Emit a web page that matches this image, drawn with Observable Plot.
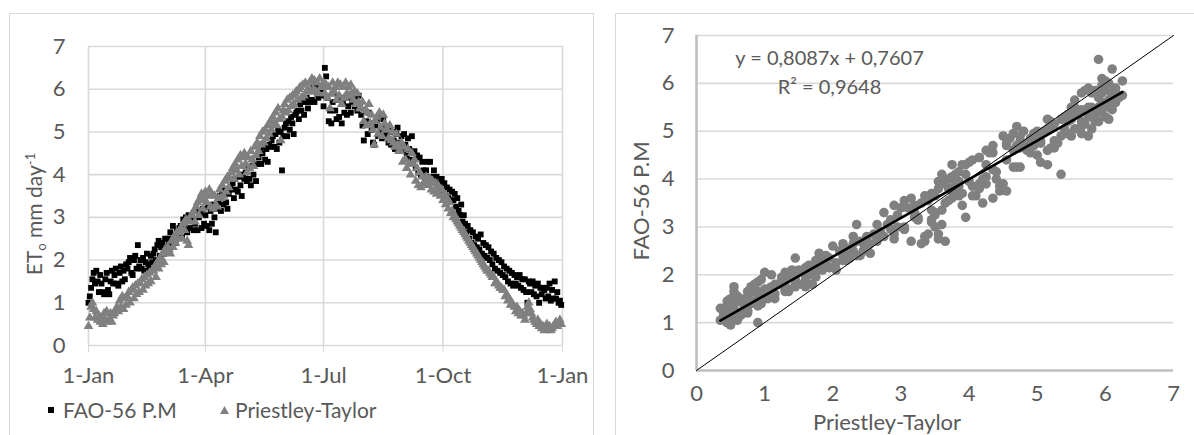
<!DOCTYPE html>
<html><head><meta charset="utf-8">
<script src="https://cdn.jsdelivr.net/npm/d3@7"></script>
<script src="https://cdn.jsdelivr.net/npm/@observablehq/plot@0.6"></script>
<style>
body{margin:0;background:#fff;font-family:Lato,"Open Sans",sans-serif;color:#595959;}
#wrap{position:relative;width:1194px;height:435px;overflow:hidden;background:#fff;}
.frame{position:absolute;border:1.5px solid #d9d9d9;box-sizing:border-box;}
.abs{position:absolute;white-space:nowrap;}
.rot{transform:translate(-50%,-50%) rotate(-90deg);}
.ctr{transform:translate(-50%,-50%);}
sub,sup{font-size:62%;}
sub{vertical-align:-0.25em;}
sup{vertical-align:0.55em;}
#left,#right{position:absolute;top:0;}
#left{left:0;} #right{left:600px;}
</style></head><body>
<div id="wrap">
  <div class="frame" style="left:9px;top:13px;width:585px;height:440px;"></div>
  <div class="frame" style="left:615px;top:13px;width:600px;height:440px;"></div>
  <div id="left"></div>
  <div id="right"></div>
  <div class="abs rot" id="ytitleL" style="left:35px;top:214px;font-size:21px;"></div>
  <div class="abs rot" id="ytitleR" style="left:640px;top:201px;font-size:22px;"></div>
  <div class="abs ctr" id="xtitleR" style="left:887px;top:421px;font-size:22px;line-height:21px;"></div>
  <div class="abs" id="legend" style="left:0;top:0;font-size:21px;"></div>
</div>
<script>
// ---------- data ----------
const startYear = 2019;
const xTickDates = ["2019-01-01","2019-04-01","2019-07-01","2019-10-01","2020-01-01"];
const xTickLabels = ["1-Jan","1-Apr","1-Jul","1-Oct","1-Jan"];
const yTicks = [0,1,2,3,4,5,6,7];
const seriesNames = ["FAO-56 P.M","Priestley-Taylor"];

// FAO-56 Penman-Monteith daily ETo (mm/day), 1 Jan .. 31 Dec
const pmValues = [
1.0,1.15,1.35,1.55,1.7,1.45,1.75,1.5,1.25,1.65,
1.45,1.25,1.2,1.55,1.7,1.3,1.2,1.5,1.75,1.45,
1.65,1.8,1.45,1.4,1.7,1.85,1.5,1.75,1.55,1.9,
1.8,1.95,2.05,1.7,1.65,2.0,2.1,1.8,2.35,1.85,
2.0,1.8,2.05,1.75,1.95,2.15,1.9,1.8,2.1,1.95,
2.15,2.25,2.0,2.35,2.45,2.1,2.3,2.4,2.15,2.5,
2.3,2.5,2.35,2.65,2.5,2.8,2.45,2.4,2.7,2.55,
2.75,2.8,2.55,2.95,2.8,3.0,2.65,3.05,2.75,2.95,
2.95,2.7,2.85,3.15,2.7,3.0,3.1,2.75,3.2,2.85,
3.05,2.8,3.25,2.7,3.15,2.85,3.3,3.0,2.65,3.2,
3.35,3.5,3.15,3.6,3.3,3.65,3.35,3.2,3.55,3.7,
3.65,3.8,3.45,3.9,3.65,3.6,3.95,3.75,3.5,4.0,
3.9,4.05,3.85,4.15,3.9,3.75,4.2,4.0,4.25,3.85,
4.25,4.4,4.55,4.25,4.5,4.65,4.35,4.6,4.3,4.7,
4.65,4.8,4.9,4.65,4.95,4.6,5.05,4.75,5.0,4.1,
4.9,5.1,5.2,4.9,5.25,5.05,5.35,5.2,4.95,5.4,
5.45,5.5,5.3,5.65,5.5,5.75,5.4,5.7,5.8,5.55,
5.7,5.95,5.75,6.05,5.7,6.1,5.9,5.8,6.05,5.85,
6.0,5.6,6.5,6.3,5.8,5.25,5.5,5.2,5.7,5.9,
5.5,5.3,5.75,5.35,5.8,5.2,5.65,5.45,5.8,5.4,
5.6,5.85,5.45,5.7,5.9,5.6,5.8,5.5,5.85,5.65,
5.4,5.15,4.8,5.5,5.25,4.95,5.45,5.2,5.05,4.75,
4.7,5.15,5.25,4.9,5.35,5.0,4.85,5.3,5.1,4.95,
4.95,4.75,5.05,4.7,5.0,4.8,4.6,4.95,5.1,4.75,
4.7,4.9,4.55,4.95,4.7,4.45,4.85,4.6,4.35,4.9,
4.3,4.55,4.15,4.45,4.05,4.4,4.0,4.3,4.1,3.95,
4.1,4.3,3.9,4.3,3.95,3.85,4.1,3.8,3.95,3.75,
3.8,3.65,3.9,3.55,3.8,3.5,3.7,3.45,3.65,3.4,
3.6,3.4,3.55,3.25,3.45,3.15,3.05,3.3,2.9,3.05,
2.85,2.65,2.8,2.5,2.7,2.4,2.65,2.35,2.55,2.3,
2.5,2.25,2.6,2.15,2.4,2.1,2.35,2.05,2.3,2.0,
2.2,1.9,2.15,1.8,2.05,1.75,2.0,1.7,1.95,1.65,
1.85,1.6,1.8,1.5,1.75,1.45,1.7,1.4,1.65,1.45,
1.6,1.4,1.65,1.35,1.55,1.3,1.55,1.25,1.0,1.5,
1.45,1.25,1.5,1.2,1.4,1.15,1.45,1.0,1.35,1.2,
1.35,1.3,1.1,1.35,1.15,1.45,1.05,1.3,1.1,1.5,
1.1,1.25,1.0,1.05,0.95
];

// Priestley-Taylor daily ETo (mm/day), 1 Jan .. 31 Dec
const ptValues = [
0.45,0.65,0.9,1.0,0.85,0.65,0.8,0.6,0.7,0.55,
0.65,0.5,0.75,0.6,0.8,0.55,0.6,0.75,0.55,0.7,
0.75,0.85,0.9,0.8,1.05,0.9,1.15,0.85,1.1,0.95,
1.15,1.25,1.0,1.3,1.35,1.1,1.4,1.2,1.45,1.25,
1.45,1.55,1.3,1.6,1.4,1.65,1.45,1.7,1.5,1.75,
1.75,1.85,1.6,1.95,1.8,2.05,1.9,2.15,1.95,2.25,
2.2,2.3,2.25,2.15,2.45,2.3,2.55,2.4,2.65,2.5,
2.65,2.75,2.5,2.85,2.7,2.95,2.45,2.35,2.9,3.05,
3.05,3.15,2.9,3.25,3.35,3.05,3.45,3.55,3.2,3.4,
3.6,3.35,3.5,3.65,3.25,3.55,3.2,3.5,3.3,3.25,
3.45,3.65,3.45,3.75,3.5,3.85,3.6,3.95,3.7,3.9,
4.05,4.15,3.9,4.25,4.1,4.35,4.0,4.45,4.2,4.4,
4.5,4.25,4.05,4.4,4.15,4.55,4.35,4.2,4.65,4.45,
4.75,4.55,4.9,4.7,5.0,4.75,5.05,4.85,5.15,4.95,
5.25,5.05,5.35,5.2,5.45,5.15,5.55,5.3,4.8,5.35,
5.5,5.65,5.45,5.75,5.5,5.8,5.6,5.85,5.65,5.9,
5.95,5.75,6.0,6.05,5.8,6.1,5.85,6.15,5.95,6.0,
6.15,5.95,6.25,6.0,6.2,5.95,6.15,5.9,6.25,6.05,
6.05,6.15,5.9,6.1,5.8,6.05,5.55,5.9,6.15,5.95,
6.05,5.75,6.15,5.85,6.1,5.65,6.05,5.8,6.15,5.9,
6.05,5.85,6.1,5.9,5.75,5.95,5.65,5.9,5.7,5.55,
5.55,5.7,5.25,5.5,5.15,5.45,5.65,5.2,5.4,5.05,
4.7,5.25,5.35,4.95,5.45,5.1,4.9,5.4,5.2,5.05,
5.05,4.85,5.15,4.8,5.0,4.75,4.65,4.95,4.7,4.55,
4.55,4.75,4.3,4.65,4.35,4.15,4.6,4.25,4.0,4.5,
4.25,4.35,3.85,4.15,3.75,4.05,3.7,3.95,3.8,3.85,
3.95,3.75,3.8,3.9,3.65,3.85,3.6,3.8,3.55,3.75,
3.7,3.5,3.65,3.4,3.55,3.3,3.45,3.2,3.35,3.1,
3.15,3.0,3.05,2.95,2.9,2.85,2.8,2.75,2.7,2.65,
2.6,2.55,2.5,2.45,2.4,2.35,2.3,2.25,2.2,2.15,
2.1,2.05,2.0,1.95,1.9,1.85,1.8,1.75,1.75,1.7,
1.65,1.6,1.6,1.45,1.5,1.45,1.4,1.35,1.35,1.3,
1.3,1.15,1.2,1.05,1.1,0.95,1.0,0.95,0.9,0.8,
0.9,0.75,0.8,0.7,0.75,0.7,0.6,0.75,0.9,1.0,
0.85,0.75,0.65,0.6,0.55,0.5,0.6,0.45,0.5,0.4,
0.45,0.35,0.45,0.5,0.4,0.45,0.35,0.4,0.45,0.5,
0.55,0.45,0.5,0.6,0.5
];

// regression shown on the scatter
const regSlope = 0.8087, regIntercept = 0.7607, regR2 = 0.9648;
const eqLine1 = "y = 0,8087x + 0,7607";
const eqLine2 = "R² = 0,9648";
const oneToOne = [0, 7];
const scatterTicks = [0,1,2,3,4,5,6,7];

// ---------- build ----------
const dayDate = i => new Date(Date.UTC(startYear, 0, 1 + i));
const pm = pmValues.map((v, i) => ({date: dayDate(i), value: v}));
const pt = ptValues.map((v, i) => ({date: dayDate(i), value: v}));
const tickDates = xTickDates.map(s => new Date(s + "T00:00:00Z"));
const labelOf = new Map(tickDates.map((d, i) => [+d, xTickLabels[i]]));

const font = {fontFamily: "Lato, 'Open Sans', sans-serif", fontSize: "22px", color: "#595959", background: "transparent", overflow: "visible"};

const left = Plot.plot({
  width: 600, height: 435,
  marginLeft: 88, marginRight: 38, marginTop: 46, marginBottom: 90,
  style: font,
  x: {type: "utc", domain: [tickDates[0], tickDates[tickDates.length - 1]], axis: null},
  y: {domain: [0, 7], axis: null},
  marks: [
    Plot.gridY(yTicks, {stroke: "#d9d9d9", strokeOpacity: 1, strokeWidth: 1.6}),
    Plot.gridX(tickDates, {stroke: "#d9d9d9", strokeOpacity: 1, strokeWidth: 1.6}),
    Plot.axisX(tickDates, {tickFormat: d => labelOf.get(+d), tickSize: 7, tickPadding: 15, stroke: "#d9d9d9", fill: "#595959", label: null}),
    Plot.axisY(yTicks, {tickSize: 0, tickPadding: 23, fill: "#595959", label: null}),
    Plot.dot(pm, {x: "date", y: "value", symbol: "square", fill: "#000", r: 3.3}),
    Plot.dot(pt, {x: "date", y: "value", symbol: "triangle", fill: "#808080", r: 3.6})
  ]
});
document.getElementById("left").append(left);

const pairs = pmValues.map((v, i) => ({pt: ptValues[i], pm: v}));
const ptMin = d3.min(ptValues), ptMax = d3.max(ptValues);
const regLine = [ptMin, ptMax].map(x => ({x, y: regSlope * x + regIntercept}));

const right = Plot.plot({
  width: 594, height: 435,
  marginLeft: 96, marginRight: 21, marginTop: 35, marginBottom: 65,
  style: font,
  x: {domain: [0, 7], axis: null},
  y: {domain: [0, 7], axis: null},
  marks: [
    Plot.gridY(scatterTicks.filter(v => v > 0), {stroke: "#d9d9d9", strokeOpacity: 1, strokeWidth: 1.6}),
    Plot.ruleX([0], {stroke: "#bfbfbf", strokeWidth: 2.6}),
    Plot.ruleY([0], {stroke: "#bfbfbf", strokeWidth: 2.6}),
    Plot.axisX(scatterTicks, {tickSize: 0, tickPadding: 15, fill: "#595959", label: null}),
    Plot.axisY(scatterTicks, {tickSize: 0, tickPadding: 22, fill: "#595959", label: null}),
    Plot.dot(pairs, {x: "pt", y: "pm", r: 4.8, fill: "#808080"}),
    Plot.line(oneToOne, {x: d => d, y: d => d, stroke: "#000", strokeWidth: 1}),
    Plot.line(regLine, {x: "x", y: "y", stroke: "#000", strokeWidth: 2.6}),
    Plot.text([eqLine1], {frameAnchor: "top-left", dx: 133, dy: 23, textAnchor: "middle", lineAnchor: "middle", fill: "#595959", fontSize: 20}),
    Plot.text([eqLine2], {frameAnchor: "top-left", dx: 133, dy: 52, textAnchor: "middle", lineAnchor: "middle", fill: "#595959", fontSize: 20})
  ]
});
document.getElementById("right").append(right);

document.getElementById("ytitleL").innerHTML = "ET<sub>o</sub> mm day<sup>-1</sup>";
document.getElementById("ytitleR").textContent = seriesNames[0];
document.getElementById("xtitleR").textContent = seriesNames[1];
document.getElementById("legend").innerHTML =
  `<div class="abs" style="left:48px;top:407px;width:6px;height:6px;background:#000"></div>` +
  `<div class="abs" style="left:63px;top:398px;line-height:24px;">${seriesNames[0]}</div>` +
  `<svg class="abs" style="left:220px;top:406px" width="9" height="8"><polygon points="4.5,0 9,8 0,8" fill="#808080"/></svg>` +
  `<div class="abs" style="left:235px;top:398px;line-height:24px;">${seriesNames[1]}</div>`;
</script>
</body></html>
